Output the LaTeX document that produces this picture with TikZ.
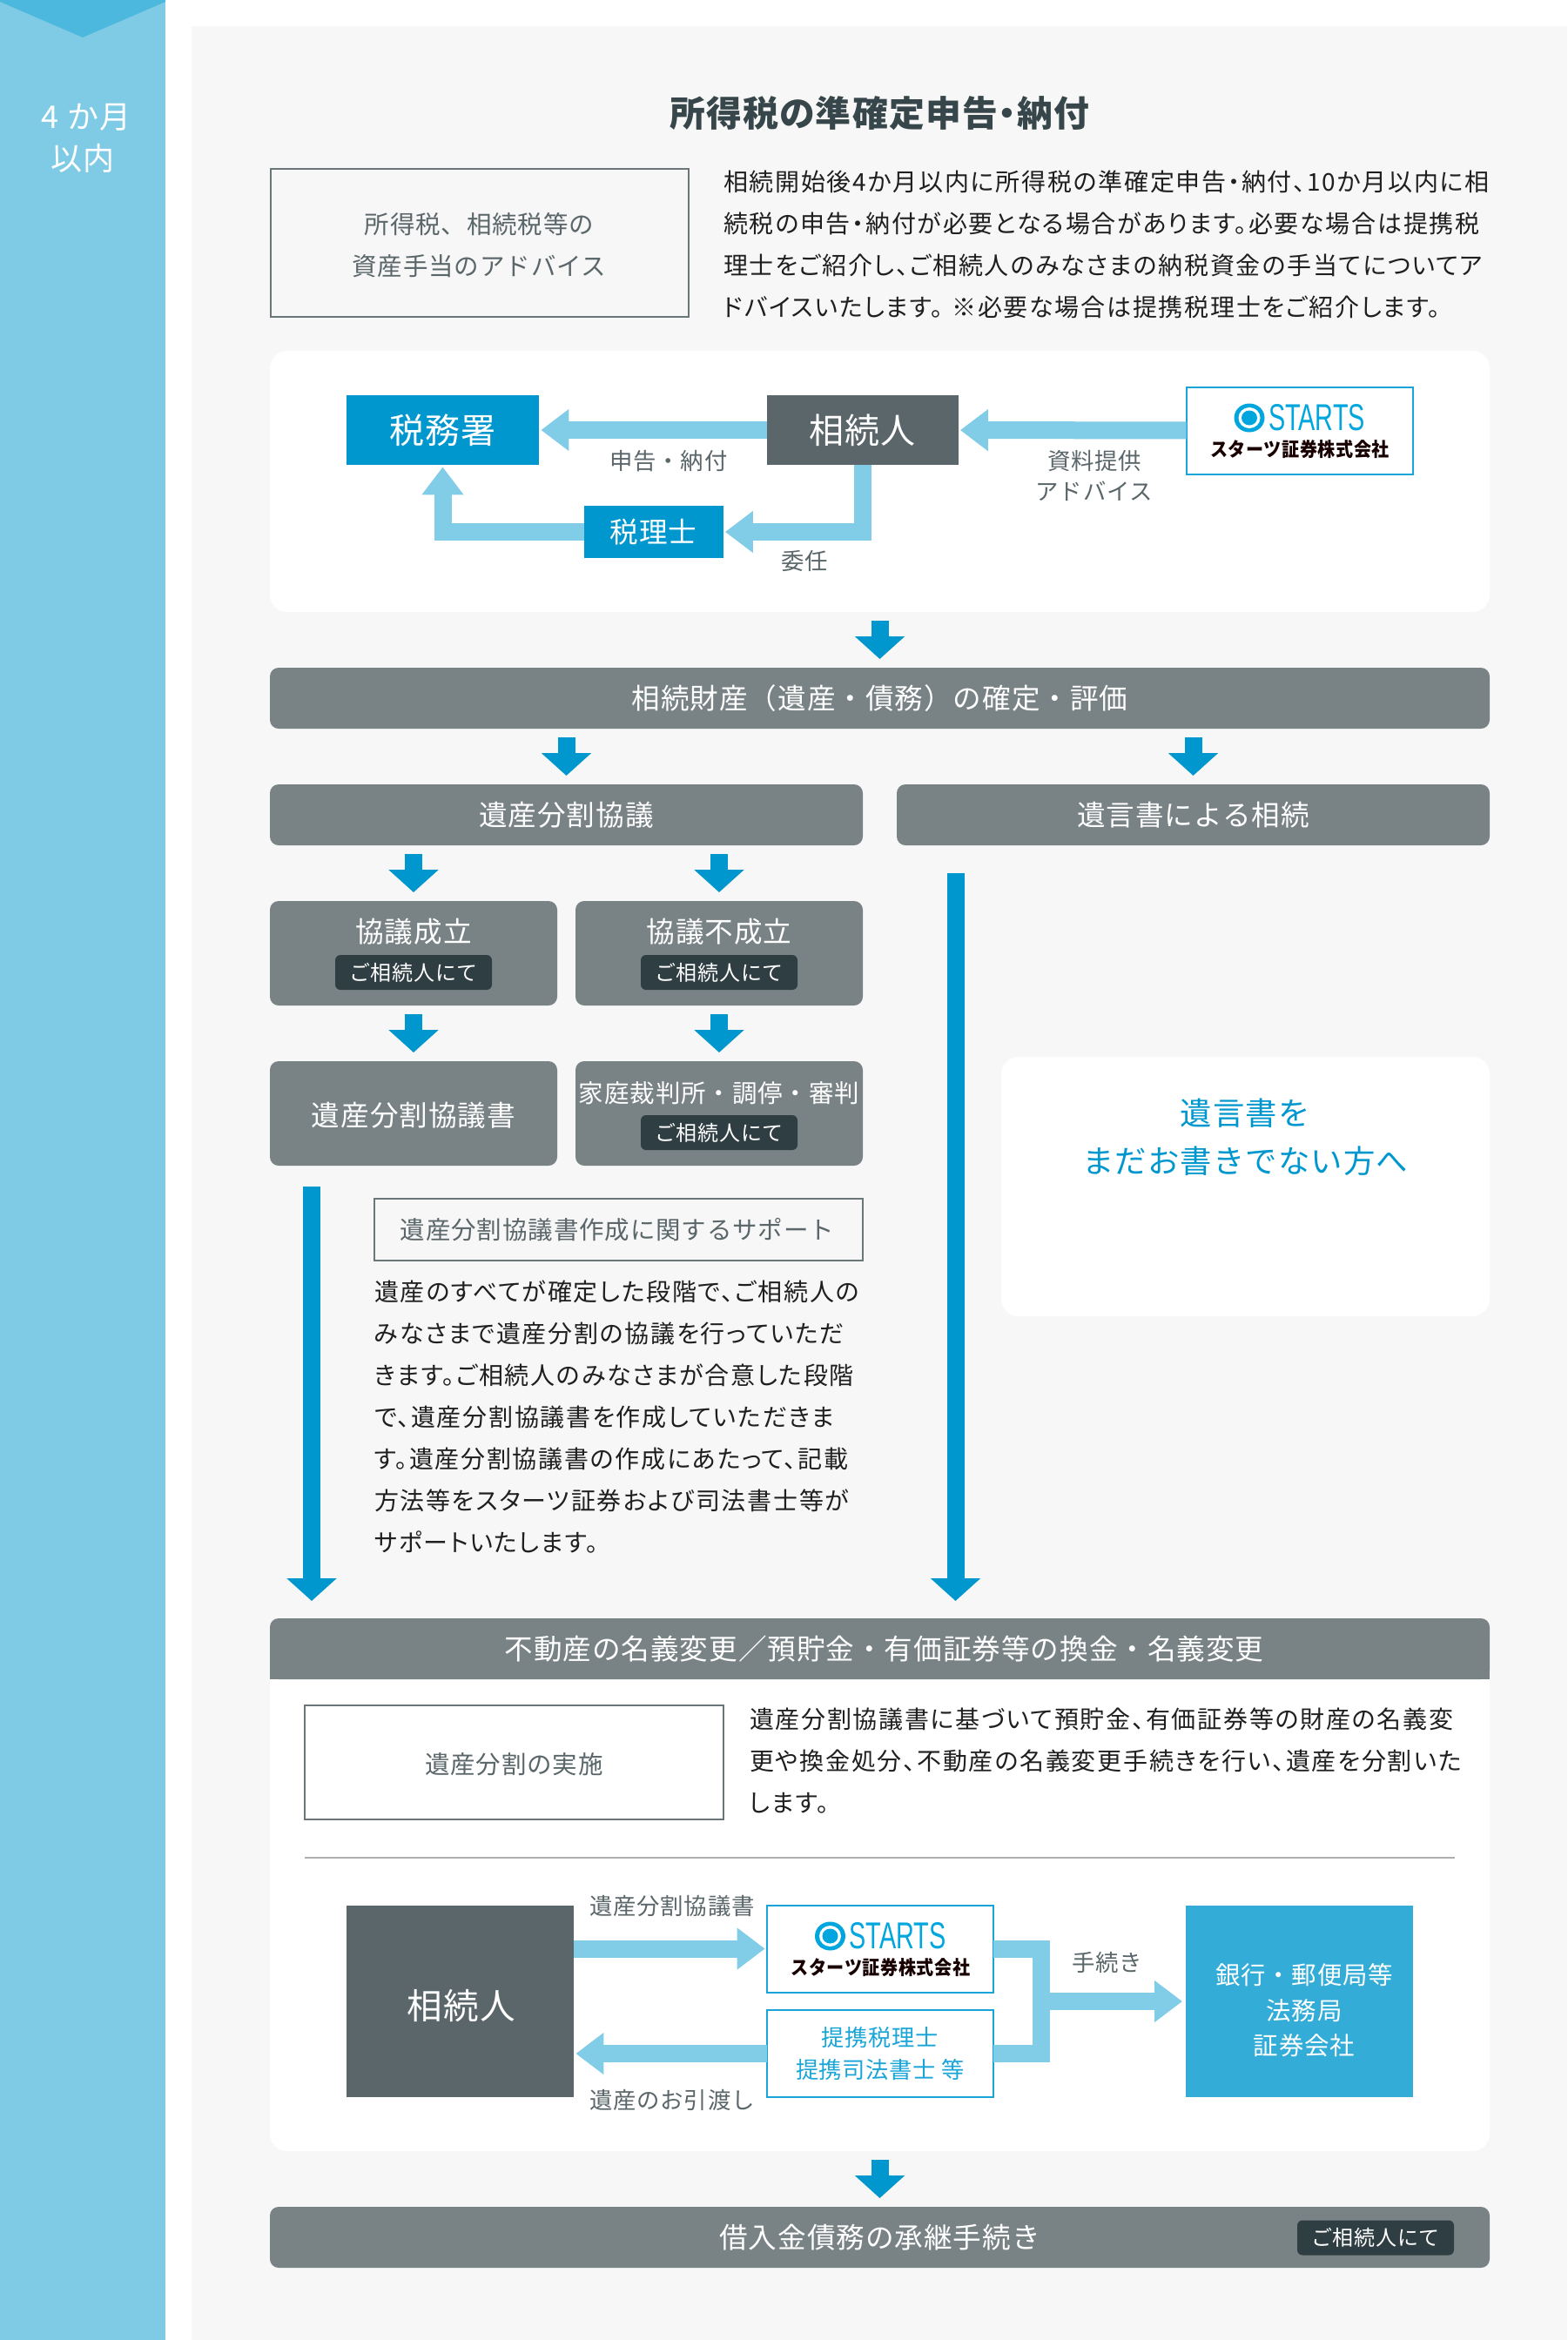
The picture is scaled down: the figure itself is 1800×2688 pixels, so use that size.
\documentclass[tikz,border=0pt]{standalone}
\usepackage{fontspec}
\usepackage{graphicx}
\setmainfont[LetterSpace=3]{Noto Sans CJK JP}
\newfontfamily\bodyfont[RawFeature=+palt,LetterSpace=6.2]{Noto Sans CJK JP}
\newfontfamily\titlefont[RawFeature=+palt,LetterSpace=3]{Noto Sans CJK JP}
\newfontfamily\logofont{Liberation Sans}
\usetikzlibrary{arrows.meta,positioning}

\definecolor{bandblue}{HTML}{7FCBE6}
\definecolor{chevronblue}{HTML}{4DB8DD}
\definecolor{panelgray}{HTML}{F7F7F7}
\definecolor{deepblue}{HTML}{0097CE}
\definecolor{flowblue}{HTML}{81CCE7}
\definecolor{midblue}{HTML}{33ADD7}
\definecolor{lineblue}{HTML}{1AA5D8}
\definecolor{logoblue}{HTML}{00A6DD}
\definecolor{slatebox}{HTML}{5A666A}
\definecolor{bargray}{HTML}{798385}
\definecolor{pilldark}{HTML}{2F3E43}
\definecolor{textgray}{HTML}{5A6669}
\definecolor{titledark}{HTML}{37464A}
\definecolor{linegray}{HTML}{6B7679}
\definecolor{rulegray}{HTML}{AEB0B0}

\newcommand{\pxfont}[2]{\fontsize{#1}{#2}\selectfont}

\begin{document}
\begin{tikzpicture}[
  x=0.5pt, y=-0.5pt,
  every node/.style={inner sep=0pt, outer sep=0pt},
  flowline/.style={line width=10pt, draw=flowblue},
  flowarrow/.style={flowline, -{Triangle[length=16pt,width=23pt]}, shorten >=1.2pt},
  downarrow/.style={-{Triangle[length=13pt,width=28pt]}, line width=10pt, draw=deepblue, shorten <=5pt, shorten >=5pt},
  longarrow/.style={downarrow, shorten >=10pt},
  whitepanel/.style={fill=white, rounded corners=10pt, minimum width=700.5pt},
  graybar/.style={fill=bargray, rounded corners=5pt, minimum height=35pt, text=white, font=\pxfont{16.3}{16.3}},
  graybox/.style={fill=bargray, rounded corners=5pt, minimum width=165pt, minimum height=60pt},
  boxtext/.style={text=white, font=\pxfont{16.3}{16.3}},
  pillbox/.style={fill=pilldark, rounded corners=3pt, minimum width=90pt, minimum height=20pt, text=white, font=\pxfont{12}{12}},
  linebox/.style={draw=linegray, line width=1pt},
  lineboxtext/.style={text=textgray, align=center, font=\pxfont{14.25}{24}},
  bluebox/.style={draw=lineblue, line width=1pt, fill=white, minimum width=130pt, minimum height=50pt},
  solidbox/.style={fill=#1, text=white, align=center, font=\pxfont{20}{20}},
  flowlabel/.style={text=textgray, align=center, font=\pxfont{13.2}{17.5}},
  bodytext/.style={anchor=north west, align=left, text=black!88, font=\bodyfont\pxfont{14}{24}},
  startslogo/.pic={
    \fill[logoblue] (-57.5,-14.5) ellipse (17.5 and 16.5);
    \fill[white] (-57.5,-14.5) ellipse (12.5 and 12);
    \fill[logoblue] (-57.5,-14.5) ellipse (9 and 8.5);
    \node[text=logoblue] (-word) at (20,-14.5) {\resizebox{55.5pt}{15pt}{\logofont STARTS}};
    \node[text=black!90!red] (-name) at (0.5,21.5) {\resizebox{103pt}{9.5pt}{\bfseries スターツ証券株式会社}};
  }
]
  \useasboundingbox (0,0) rectangle (1800,2688);
  \fill[white] (0,0) rectangle (1800,2688);
  \fill[panelgray] (220,30) rectangle (1800,2688);
  \fill[bandblue] (0,0) rectangle (190,2688);
  \fill[chevronblue] (0,0) -- (190,0) -- (190,2) -- (95,43) -- (0,2) -- cycle;
  \node[text=white, align=center, font=\pxfont{18}{24}] (period) at (95,159) {\hspace*{4pt}4 か月\\以内};

  % income tax section
  \node[text=titledark, font=\titlefont\bfseries\pxfont{20.4}{20.4}] (title) at (1010.5,130) {所得税の準確定申告・納付};
  \node[linebox, minimum width=240pt, minimum height=85pt] (advice) at (550.5,278.5) {};
  \node[lineboxtext] (advicelabel) at (550.5,281.5) {所得税、相続税等の\\資産手当のアドバイス};
  \node[bodytext] (advicetext) at (831,196) {相続開始後4か月以内に所得税の準確定申告・納付、10か月以内に相\\続税の申告・納付が必要となる場合があります。必要な場合は提携税\\理士をご紹介し、ご相続人のみなさまの納税資金の手当てについてア\\ドバイスいたします。\hspace{5pt}※必要な場合は提携税理士をご紹介します。};

  \node[whitepanel, minimum height=150pt] (panela) at (1010.5,553) {};
  \node[solidbox=deepblue, minimum width=110.5pt, minimum height=40pt] (taxoffice) at (508.5,494) {税務署};
  \node[solidbox=slatebox, minimum width=110pt, minimum height=40pt] (heira) at (990.5,494) {相続人};
  \node[bluebox] (startsa) at (1492.5,494.5) {};
  \pic (logoa) at (startsa.center) {startslogo};
  \node[solidbox=deepblue, minimum width=80pt, minimum height=30pt, font=\pxfont{16.3}{16.3}] (taxadvisor) at (750.5,611) {税理士};

  \draw[flowarrow] (heira) -- (taxoffice);
  \draw[flowarrow] (startsa) -- (heira);
  \draw[flowarrow] (heira.south) |- (taxadvisor.east);
  \draw[flowarrow] (taxadvisor.west) -| (taxoffice.south);

  \node[flowlabel] (filing) at (768,530) {申告・納付};
  \node[flowlabel] (materials) at (1257,546.5) {資料提供\\アドバイス};
  \node[flowlabel] (mandate) at (924,644) {委任};

  % estate
  \node[graybar, minimum width=700.5pt, below=32pt of panela] (estate) {相続財産（遺産・債務）の確定・評価};
  \node[graybar, minimum width=340.5pt, below=32pt of estate.south west, anchor=north west] (division) {遺産分割協議};
  \node[graybar, minimum width=340.5pt, below=32pt of estate.south east, anchor=north east] (will) {遺言書による相続};
  \node[graybox, below=32pt of division.south west, anchor=north west] (agreed) {};
  \node[graybox, below=32pt of division.south east, anchor=north east] (failed) {};
  \node[graybox, below=32pt of agreed] (agreedoc) {};
  \node[graybox, below=32pt of failed] (court) {};

  \node[boxtext] (agreedtext) at ([yshift=12.5pt]agreed.center) {協議成立};
  \node[pillbox] (agreedpill) at ([yshift=-11pt]agreed.center) {ご相続人にて};
  \node[boxtext] (failedtext) at ([yshift=12.5pt]failed.center) {協議不成立};
  \node[pillbox] (failedpill) at ([yshift=-11pt]failed.center) {ご相続人にて};
  \node[boxtext] (agreedoctext) at ([yshift=-1pt]agreedoc.center) {遺産分割協議書};
  \node[boxtext, font=\pxfont{14.25}{14.25}] (courttext) at ([yshift=11.5pt]court.center) {家庭裁判所・調停・審判};
  \node[pillbox] (courtpill) at ([yshift=-11pt]court.center) {ご相続人にて};

  \draw[downarrow] (panela) -- (estate);
  \draw[downarrow] (division.north |- estate.south) -- (division.north);
  \draw[downarrow] (will.north |- estate.south) -- (will.north);
  \draw[downarrow] (agreed.north |- division.south) -- (agreed.north);
  \draw[downarrow] (failed.north |- division.south) -- (failed.north);
  \draw[downarrow] (agreed) -- (agreedoc);
  \draw[downarrow] (failed) -- (court);

  \node[linebox, minimum width=280.5pt, minimum height=35.5pt] (support) at (710.5,1412.5) {};
  \node[lineboxtext] (supportlabel) at (709,1412.5) {遺産分割協議書作成に関するサポート};
  \node[bodytext] (supporttext) at (430,1471) {遺産のすべてが確定した段階で、ご相続人の\\みなさまで遺産分割の協議を行っていただ\\きます。ご相続人のみなさまが合意した段階\\で、遺産分割協議書を作成していただきま\\す。遺産分割協議書の作成にあたって、記載\\方法等をスターツ証券および司法書士等が\\サポートいたします。};

  \node[whitepanel, minimum width=280.5pt, minimum height=149pt] (willnote) at (1430.5,1363) {};
  \node[text=deepblue, align=center, font=\pxfont{18.2}{27.5}] (willnotetext) at (1430,1306) {遺言書を\\まだお書きでない方へ};

  % transfer section
  \node[whitepanel, minimum height=306pt] (panelb) at (1010.5,2165) {};
  \node[graybar, minimum width=700.5pt, below=0pt of panelb.north, anchor=north] (transfer) {};
  \fill[bargray] (transfer.west) rectangle (transfer.south east);
  \node[boxtext] (transfertext) at ([xshift=2.5pt]transfer.center) {不動産の名義変更／預貯金・有価証券等の換金・名義変更};

  \coordinate (leftstart) at (358,1353);
  \coordinate (rightstart) at (1097.5,993);
  \draw[longarrow] (leftstart) -- (leftstart |- transfer.north);
  \draw[longarrow] (rightstart) -- (rightstart |- transfer.north);

  \node[linebox, minimum width=240.5pt, minimum height=65.5pt] (execution) at (590.5,2024) {};
  \node[lineboxtext] (executionlabel) at (590.5,2027) {遺産分割の実施};
  \node[bodytext] (executiontext) at (861,1962) {遺産分割協議書に基づいて預貯金、有価証券等の財産の名義変\\更や換金処分、不動産の名義変更手続きを行い、遺産を分割いた\\します。};
  \coordinate (ruleleft) at (350,2134);
  \coordinate (ruleright) at (1671,2134);
  \draw[rulegray, line width=1pt] (ruleleft) -- (ruleright);

  \node[solidbox=slatebox, minimum width=130.5pt, minimum height=110pt] (heirb) at (528.5,2299) {};
  \node[text=white, font=\pxfont{20.3}{20.3}] (heirbtext) at (530,2304) {相続人};
  \node[bluebox] (startsb) at (1011,2238.5) {};
  \pic (logob) at (startsb.center) {startslogo};
  \node[bluebox, text=lineblue, align=center, font=\pxfont{13.1}{18.5}] (partners) at (1011,2359) {提携税理士\\提携司法書士 等};
  \node[solidbox=midblue, minimum width=130.5pt, minimum height=110pt] (bank) at (1492.5,2299) {};
  \node[text=white, align=center, font=\pxfont{14.2}{20.25}] (banktext) at (1498,2309.5) {銀行・郵便局等\\法務局\\証券会社};
  \coordinate (fork) at (1196,2299);

  \draw[flowarrow] (heirb.east |- startsb.west) -- (startsb.west);
  \draw[flowarrow] (partners.west) -- (heirb.east |- partners.west);
  \draw[flowline] (startsb.east) -| (fork) |- (partners.east);
  \draw[flowarrow, shorten >=2pt] (fork) -- (bank.west);

  \node[flowlabel] (deed) at (772,2190) {遺産分割協議書};
  \node[flowlabel] (handover) at (772,2412) {遺産のお引渡し};
  \node[flowlabel] (procedure) at (1271.5,2254) {手続き};

  % debt
  \node[graybar, minimum width=700.5pt, below=32pt of panelb] (debt) {借入金債務の承継手続き};
  \node[pillbox] (debtpill) at (1580,2570.5) {ご相続人にて};
  \draw[downarrow] (panelb) -- (debt);
\end{tikzpicture}
\end{document}
